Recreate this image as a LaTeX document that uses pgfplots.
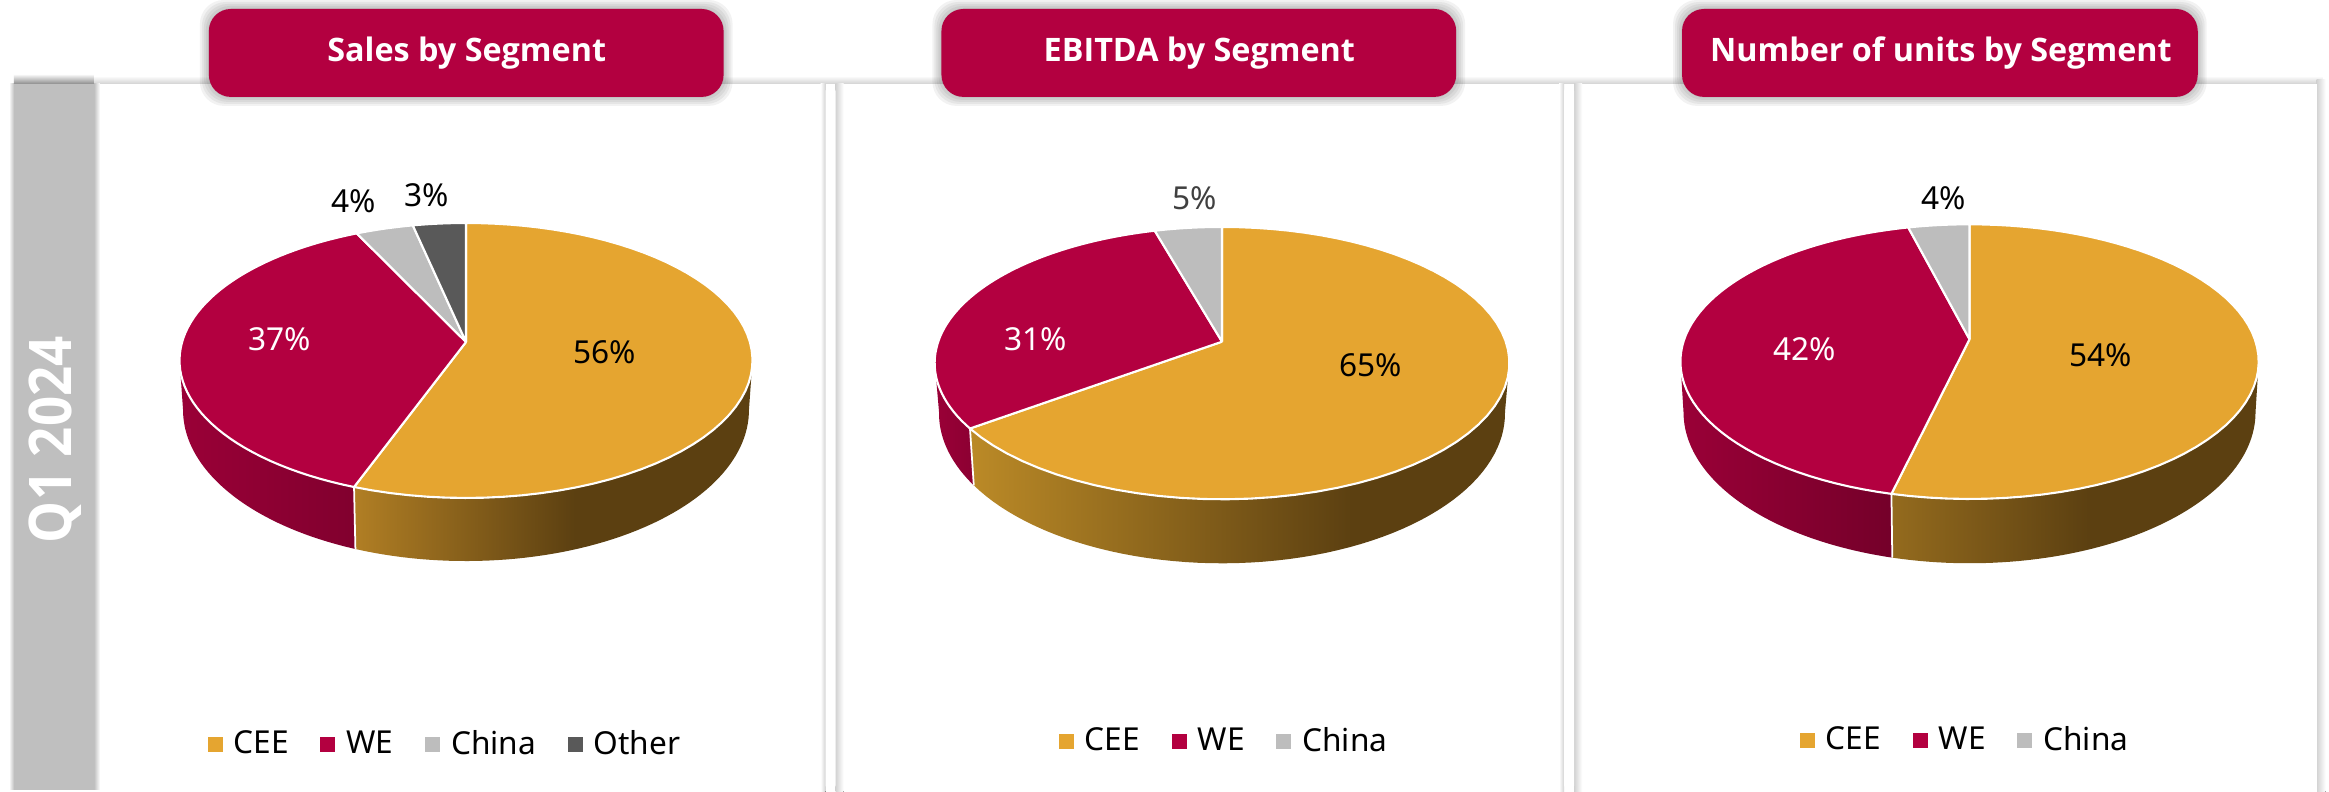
\documentclass[border=0pt]{standalone}
\usepackage{fontspec}
\setmainfont{Noto Sans}
\newfontfamily\headfont{Open Sans}[BoldFont={Open Sans Bold}]
\usepackage{pgfplots}
\pgfplotsset{compat=1.18}
\definecolor{cee}{HTML}{E5A530}
\definecolor{we}{HTML}{B30040}
\definecolor{china}{HTML}{BDBDBD}
\definecolor{other}{HTML}{595959}
\definecolor{ceedark}{HTML}{5C4011}
\definecolor{band}{HTML}{BFBFBF}
\definecolor{shadowgray}{HTML}{D2D2D2}
% side gradients: the path's box runs from 25bp to 75bp
\colorlet{ceeLA}{cee!62!ceedark}
\pgfdeclarehorizontalshading{sideA}{100bp}{color(0bp)=(ceeLA); color(25bp)=(ceeLA); color(52.7bp)=(ceedark); color(100bp)=(ceedark)}
\definecolor{ceeLB}{HTML}{BB8A27}
\pgfdeclarehorizontalshading{sideB}{100bp}{color(0bp)=(ceeLB); color(25bp)=(ceeLB); color(60.4bp)=(ceedark); color(100bp)=(ceedark)}
\definecolor{ceeLC}{HTML}{946B1E}
\pgfdeclarehorizontalshading{sideC}{100bp}{color(0bp)=(ceeLC); color(25bp)=(ceeLC); color(51.8bp)=(ceedark); color(100bp)=(ceedark)}

\newcommand\setpie[8]{\def\cx{#1}\def\ay{#2}\def\Rr{#3}\def\hh{#4}\def\kk{#5}\def\ayb{#6}\def\Rb{#7}\def\hb{#8}}
% append an arc of the projected circle to \ptlist
\newcommand\arcpts[5]{% from,to,apex y,R,h
  \pgfmathsetmacro\myStep{(#2-#1)/60}%
  \pgfplotsforeachungrouped \ii in {0,...,60}{%
    \pgfmathsetmacro\tht{#1+\ii*\myStep}%
    \pgfmathsetmacro\dn{1+\kk*cos(\tht)}%
    \pgfmathsetmacro\px{\cx+#4*sin(\tht)/\dn}%
    \pgfmathsetmacro\py{#3-#5*cos(\tht)/\dn}%
    \edef\ptlist{\ptlist (\px,\py) }%
  }%
}
\newcommand\pieSlice[3]{% from%, to%, options
  \pgfmathsetmacro\tha{3.6*(#1)}\pgfmathsetmacro\thb{3.6*(#2)}%
  \edef\ptlist{(\cx,\ay) }%
  \arcpts{\tha}{\thb}{\ay}{\Rr}{\hh}%
  \edef\ptlist{\ptlist (\cx,\ay) }%
  \edef\tmpcmd{\noexpand\addplot[\unexpanded{#3}] coordinates {\ptlist};}\tmpcmd
}
\newcommand\pieSide[3]{% from angle, to angle, options
  \def\ptlist{}%
  \arcpts{#1}{#2}{\ay}{\Rr}{\hh}%
  \arcpts{#2}{#1}{\ayb}{\Rb}{\hb}%
  \edef\tmpcmd{\noexpand\addplot[forget plot,draw=none,\unexpanded{#3}] coordinates {\ptlist};}\tmpcmd
}
\newcommand\pieEdge[1]{% angle
  \def\ptlist{}%
  \pgfmathsetmacro\dn{1+\kk*cos(#1)}%
  \pgfmathsetmacro\px{\cx+\Rr*sin(#1)/\dn}\pgfmathsetmacro\py{\ay-\hh*cos(#1)/\dn}%
  \edef\ptlist{(\px,\py) }%
  \pgfmathsetmacro\px{\cx+\Rb*sin(#1)/\dn}\pgfmathsetmacro\py{\ayb-\hb*cos(#1)/\dn}%
  \edef\ptlist{\ptlist (\px,\py) }%
  \edef\tmpcmd{\noexpand\addplot[forget plot,draw=white,line width=0.5pt] coordinates {\ptlist};}\tmpcmd
}
\pgfplotsset{
  pieaxis/.style={
    at={(0,0)},anchor=south west,scale only axis,width=23.29cm,height=7.92cm,
    xmin=0,xmax=2329,ymin=0,ymax=792,y dir=reverse,hide axis,clip=false,no marks,
    legend columns=-1,
    legend style={draw=none,fill=none,font=\fontsize{9}{10}\selectfont,anchor=center,
      inner sep=0pt,outer sep=0pt,
      /tikz/every even column/.append style={column sep=0.235cm}},
    legend image code/.code={\path[##1,draw=none] (0cm,-0.075cm) rectangle (0.15cm,0.075cm);\path (0cm,0cm) (0.18cm,0cm);},
  },
  topface/.style={draw=white,line width=0.6pt,line join=round,fill=#1},
}
\tikzset{lab/.style={font=\fontsize{9}{10}\selectfont,inner sep=0pt}}
\newcommand\titlebox[4]{% x0,x1,textx,text
  \foreach \g in {9,7,5,3,1}{\fill[black,opacity=0.05,rounded corners=0.24cm] (#1-\g,9-\g) rectangle (#2+\g,97+\g);}
  \fill[we,rounded corners=0.22cm] (#1,9) rectangle (#2,97);
  \node[text=white,inner sep=0pt,font=\headfont\fontsize{9.2}{11}\selectfont\bfseries] at (#3,53) {#4};
}
\newcommand\sep[1]{% left x of the white strip
  \fill[left color=white,right color=shadowgray] (#1-5,84) rectangle (#1,792);
  \fill[left color=shadowgray,right color=white] (#1+10,84) rectangle (#1+18,792);
  \fill[white,rounded corners=0.04cm] (#1,87) rectangle (#1+10,790);
}
\begin{document}
\begin{tikzpicture}
\path[use as bounding box] (0,0) rectangle (23.29cm,7.92cm);
\fill[white] (0,0) rectangle (23.29cm,7.92cm);
\begin{scope}[x=0.01cm,y=-0.01cm,shift={(0,7.92cm)}]
  % panel with soft edges
  \fill[top color=white,bottom color=shadowgray] (94,76) rectangle (2324,84);
  \fill[left color=shadowgray,right color=white] (2318,80) rectangle (2327,792);
  \fill[white] (94,84) rectangle (2318,792);
  \sep{826}
  \sep{1565}
  % side band
  \fill[left color=white,right color=band] (9,84) rectangle (14,790);
  \fill[left color=band,right color=white] (94,84) rectangle (100,790);
  \fill[top color=white,bottom color=black!45] (14,74) rectangle (94,84);
  \fill[band] (14,84) rectangle (94,790);
  \node[rotate=90,text=white,inner sep=0pt,font=\headfont\fontsize{15.5}{18}\selectfont\bfseries] at (55,440) {\scalebox{0.97}[1.08]{Q1 2024}};
  \titlebox{209}{724}{467}{Sales by Segment}
  \titlebox{942}{1457}{1200}{EBITDA by Segment}
  \titlebox{1683}{2199}{1942}{Number of units by Segment}
\end{scope}

% ---- Sales by Segment
\begin{axis}[pieaxis,legend style={at={(axis cs:447,745)}}]
  \setpie{466}{342}{283.9}{135}{0.1345}{389.7}{280.4}{148.3}
  \def\vA{55.6}\def\vB{37.3}\def\vC{3.7}\def\vD{3.4}
  \pgfmathsetmacro\aone{\vA}\pgfmathsetmacro\atwo{\vA+\vB}\pgfmathsetmacro\athree{\atwo+\vC}\pgfmathsetmacro\afour{\athree+\vD}
  \pgfmathsetmacro\edgeA{3.6*\aone}
  \pieSide{97.7}{\edgeA}{shade,shading=sideA}
  \pieSide{\edgeA}{262.3}{left color=we!86!black,right color=we!72!black}
  \pieEdge{\edgeA}
  \pieSlice{0}{\aone}{topface=cee}\addlegendentry{CEE}
  \pieSlice{\aone}{\atwo}{topface=we}\addlegendentry{WE}
  \pieSlice{\atwo}{\athree}{topface=china}\addlegendentry{China}
  \pieSlice{\athree}{\afour}{topface=other}\addlegendentry{Other}
  \node[lab] at (axis cs:605,352) {56\%};
  \node[lab,text=white] at (axis cs:280,339) {37\%};
  \node[lab] at (axis cs:354,201) {4\%};
  \node[lab] at (axis cs:427,195) {3\%};
\end{axis}

% ---- EBITDA by Segment
\begin{axis}[pieaxis,legend style={at={(axis cs:1226,742)}}]
  \setpie{1222}{341.7}{283.8}{132.8}{0.1574}{389.7}{279.5}{146.3}
  \def\vA{64.9}\def\vB{30.7}\def\vC{4.4}
  \pgfmathsetmacro\aone{\vA}\pgfmathsetmacro\atwo{\vA+\vB}\pgfmathsetmacro\athree{\atwo+\vC}
  \pgfmathsetmacro\edgeA{3.6*\aone}
  \pieSide{98.5}{\edgeA}{shade,shading=sideB}
  \pieSide{\edgeA}{261.5}{left color=we!86!black,right color=we!78!black}
  \pieEdge{\edgeA}
  \pieSlice{0}{\aone}{topface=cee}\addlegendentry{CEE}
  \pieSlice{\aone}{\atwo}{topface=we}\addlegendentry{WE}
  \pieSlice{\atwo}{\athree}{topface=china}\addlegendentry{China}
  \node[lab] at (axis cs:1371,365) {65\%};
  \node[lab,text=white] at (axis cs:1035.5,339) {31\%};
  \node[lab,text=black!75] at (axis cs:1194.6,198) {5\%};
\end{axis}

% ---- Number of units by Segment
\begin{axis}[pieaxis,legend style={at={(axis cs:1967,741)}}]
  \setpie{1969.5}{339.3}{285.3}{133.7}{0.1628}{387.7}{282.2}{147}
  \def\vA{53.7}\def\vB{42.3}\def\vC{4.0}
  \pgfmathsetmacro\aone{\vA}\pgfmathsetmacro\atwo{\vA+\vB}\pgfmathsetmacro\athree{\atwo+\vC}
  \pgfmathsetmacro\edgeA{3.6*\aone}
  \pieSide{99.4}{\edgeA}{shade,shading=sideC}
  \pieSide{\edgeA}{260.6}{left color=we!86!black,right color=we!65!black}
  \pieEdge{\edgeA}
  \pieSlice{0}{\aone}{topface=cee}\addlegendentry{CEE}
  \pieSlice{\aone}{\atwo}{topface=we}\addlegendentry{WE}
  \pieSlice{\atwo}{\athree}{topface=china}\addlegendentry{China}
  \node[lab] at (axis cs:2100.5,355) {54\%};
  \node[lab,text=white] at (axis cs:1804.6,349) {42\%};
  \node[lab] at (axis cs:1944,198) {4\%};
\end{axis}
\end{tikzpicture}
\end{document}
